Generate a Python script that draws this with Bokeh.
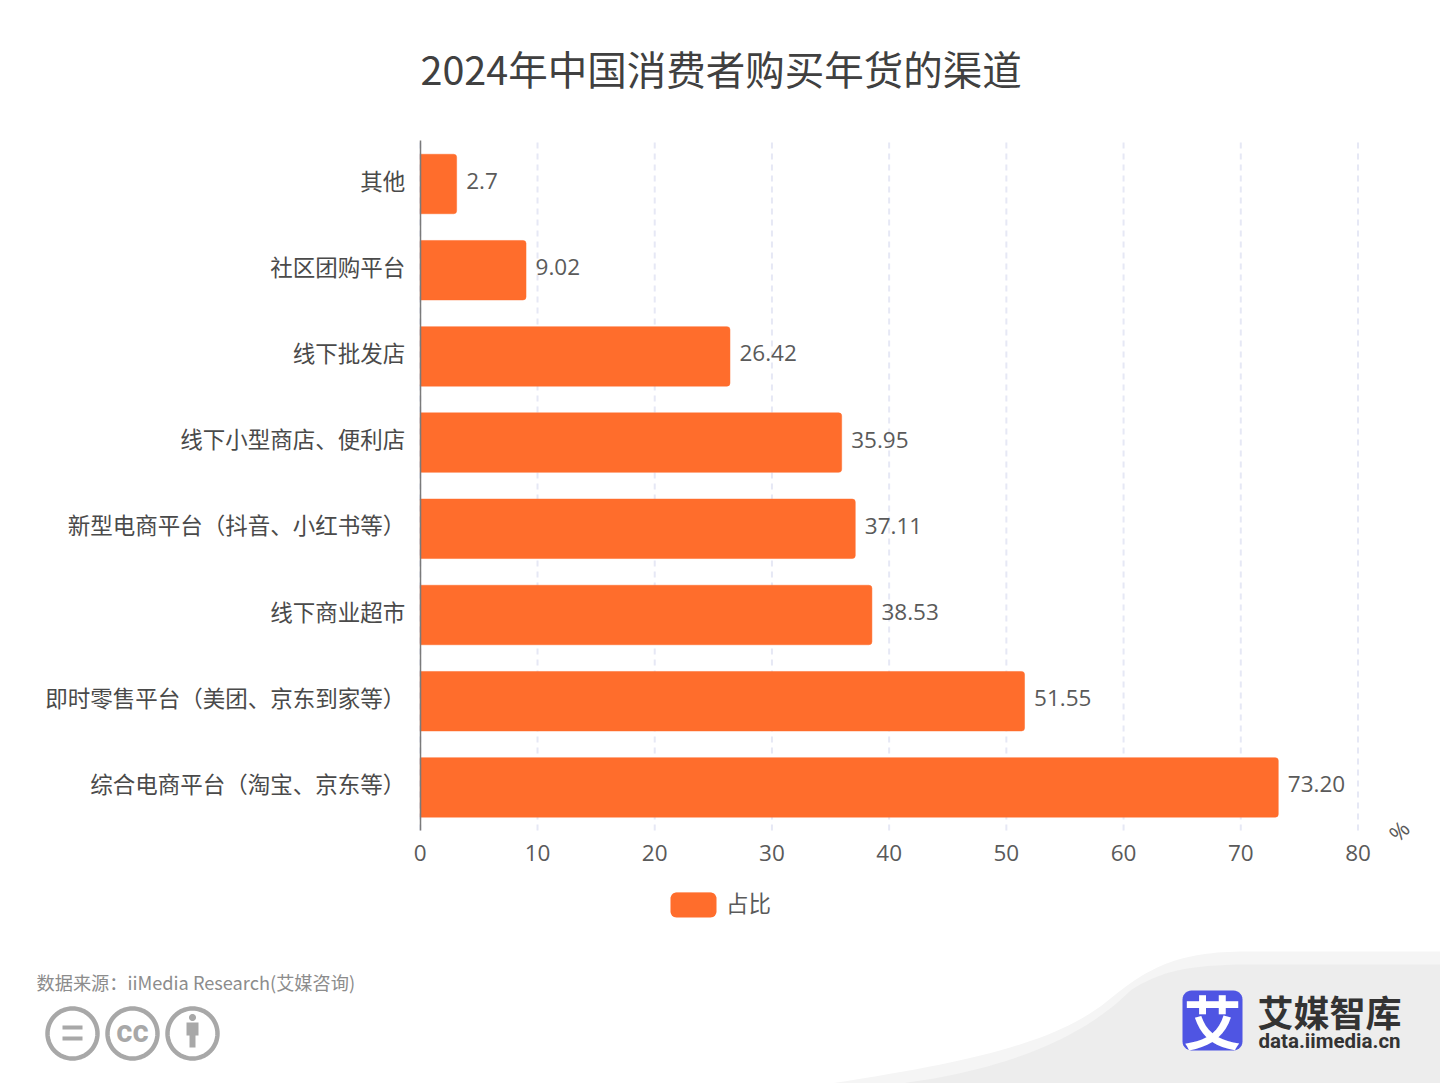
import numpy as np
from bokeh.plotting import figure
from bokeh.models import Range1d, Legend, LegendItem, FixedTicker, ColumnDataSource
from bokeh.core.properties import value
from bokeh.embed import file_html
from bokeh.resources import INLINE

# ---- chart data (bottom to top) ----
channels = ["综合电商平台（淘宝、京东等）", "即时零售平台（美团、京东到家等）", "线下商业超市",
            "新型电商平台（抖音、小红书等）", "线下小型商店、便利店", "线下批发店", "社区团购平台", "其他"]
bar_values = [73.20, 51.55, 38.53, 37.11, 35.95, 26.42, 9.02, 3.1]
bar_labels = ["73.20", "51.55", "38.53", "37.11", "35.95", "26.42", "9.02", "2.7"]
x_ticks = [0, 10, 20, 30, 40, 50, 60, 70, 80]
series_name = "占比"
unit_text = "%"
title_text = "2024年中国消费者购买年货的渠道"
source_text = "数据来源：iiMedia Research(艾媒咨询)"
brand_text = "艾媒智库"
brand_url = "data.iimedia.cn"

ORANGE = "#FF6D2C"
CJK = "Noto Sans CJK SC"
NUM = "Open Sans"
W, H = 1440, 1083

# the frame is the whole page; these two scales place x=0/x=80 and the category rows on it
PX_X0, PX_X80 = 419.8, 1357.5
PX_ROW0, PX_STEP = 786.9, 86.2
PX_AXIS_TOP, PX_AXIS_BOTTOM = 140, 830
sx = (PX_X80 - PX_X0) / 80
row = lambda py: (PX_ROW0 - py) / PX_STEP
rows = list(range(len(channels)))
LABEL_SHIFT = 0.05

p = figure(width=W, height=H, frame_width=W, frame_height=H, output_backend="svg", toolbar_location=None,
           x_range=Range1d(-PX_X0 / sx, (W - PX_X0) / sx), y_range=Range1d(row(H), row(0)),
           min_border=0, outline_line_color=None, background_fill_color="white", border_fill_color="white")
p.extra_x_ranges = {"page": Range1d(0, W)}
p.extra_y_ranges = {"page": Range1d(H, 0)}
PAGE = dict(x_range_name="page", y_range_name="page")
p.xgrid.visible = False
p.ygrid.visible = False


# ---- decorations in page pixels ----
def poly(xs, ys, fill=None, line=None, lw=0):
    if fill:
        p.patch(list(xs), list(ys), fill_color=fill, line_color=None, **PAGE)
    if line:
        p.line(list(xs) + [xs[0]], list(ys) + [ys[0]], line_color=line, line_width=lw, **PAGE)


def label(x, y, text, font=CJK, size="18px", color="#888888", style="normal", align="left", angle=0):
    p.text([x], [y], text=[text], text_font=value(font), text_font_size=size, text_color=color,
           text_font_style=style, text_align=align, text_baseline="middle", angle=angle, angle_units="deg", **PAGE)


def bezier(pts, n=30):
    pts = np.array(pts, float)
    s = np.linspace(0, 1, n)[:, None]
    return (1 - s) ** 3 * pts[0] + 3 * (1 - s) ** 2 * s * pts[1] + 3 * (1 - s) * s ** 2 * pts[2] + s ** 3 * pts[3]


def circle(cx, cy, r, n=72):
    a = np.linspace(0, 2 * np.pi, n, endpoint=False)
    return list(cx + r * np.cos(a)), list(cy + r * np.sin(a))


def rrect(x0, y0, x1, y1, r, n=8):
    xs, ys = [], []
    for cx, cy, a0 in [(x1 - r, y0 + r, -90), (x1 - r, y1 - r, 0), (x0 + r, y1 - r, 90), (x0 + r, y0 + r, 180)]:
        a = np.radians(np.linspace(a0, a0 + 90, n))
        xs += list(cx + r * np.cos(a))
        ys += list(cy + r * np.sin(a))
    return xs, ys


c1 = np.vstack([bezier([(830, 1083), (980, 1060), (1060, 1040), (1110, 998)]),
                bezier([(1110, 998), (1150, 965), (1180, 952), (1240, 951)])])
poly(list(c1[:, 0]) + [1440, 1440], list(c1[:, 1]) + [951, 1083], "#F5F5F5")
c2 = np.vstack([bezier([(900, 1083), (1000, 1070), (1080, 1040), (1130, 990)]),
                bezier([(1130, 990), (1160, 970), (1190, 965), (1240, 964)])])
poly(list(c2[:, 0]) + [1440, 1440], list(c2[:, 1]) + [964, 1083], "#EDEDED")

# ---- chart ----
bottom, top = row(PX_AXIS_BOTTOM), row(PX_AXIS_TOP)
p.segment(x0=x_ticks, x1=x_ticks, y0=bottom, y1=top, line_color="#E6E8F5", line_width=2, line_dash="6 5")

src = ColumnDataSource(dict(y=rows, v=bar_values, t=bar_labels))
bars = p.hbar(y="y", right="v", left=0, height=0.69, source=src, fill_color=ORANGE, line_color=ORANGE,
              line_width=0.5, border_radius=(0, 3, 3, 0))
p.text(x="v", y="y", text="t", source=src, x_offset=9.5, y_offset=-3, text_baseline="middle", text_align="left",
       text_font=value(NUM), text_font_size="22.5px", text_color="#5A5A5A")

xa = p.xaxis[0]
xa.fixed_location = bottom
xa.ticker = FixedTicker(ticks=x_ticks)
xa.axis_line_color = None
xa.major_tick_line_color = None
xa.minor_tick_line_color = None
xa.major_label_text_font = NUM
xa.major_label_text_font_size = "22.5px"
xa.major_label_text_color = "#5A5A5A"
xa.major_label_standoff = 8

label_ticks = [round(r + LABEL_SHIFT, 3) for r in rows]
ya = p.yaxis[0]
ya.fixed_location = 0
ya.bounds = (bottom, top)
ya.ticker = FixedTicker(ticks=label_ticks)
ya.major_label_overrides = dict(zip(label_ticks, channels))
ya.axis_line_color = "#7A7A7A"
ya.axis_line_width = 1.5
ya.major_tick_line_color = None
ya.minor_tick_line_color = None
ya.major_label_text_font = CJK
ya.major_label_text_font_size = "22.5px"
ya.major_label_text_color = "#4A4A4A"
ya.major_label_standoff = 9

# rounded swatch behind the legend's own (smaller, square) glyph
poly(*rrect(670, 892, 716, 917, 6), ORANGE)
leg = Legend(items=[LegendItem(label=series_name, renderers=[bars])], orientation="horizontal",
             location=(670, H - 918), glyph_width=46, glyph_height=25, padding=0, margin=0,
             label_text_font=CJK, label_text_font_size="22.5px", label_text_color="#5A5A5A",
             label_standoff=10, border_line_color=None, background_fill_alpha=0)
p.add_layout(leg, "center")

label(420, 67, title_text, size="39.5px", color="#404040")
label(1398, 830, unit_text, font=NUM, size="22px", color="#5A5A5A", align="center", angle=45)

# logo
poly(*rrect(1182, 990, 1242, 1050, 9), "#4F55E3")
label(1212, 1019, "艾", size="58px", color="white", style="bold", align="center")
label(1257, 1010, brand_text, size="36px", color="#333333", style="bold")
label(1258, 1040, brand_url, font="Roboto", size="20.5px", color="#333333", style="bold")

# source + licence icons
label(36, 981, source_text, size="18.2px", color="#8C8C8C")
ICON = "#A8A8A8"
for cx in (72, 132, 192):
    poly(*circle(cx, 1033, 25), None, ICON, 4.5)
poly([62, 82, 82, 62], [1025, 1025, 1029, 1029], ICON)
poly([62, 82, 82, 62], [1036, 1036, 1040, 1040], ICON)
label(132, 1031, "cc", font="Roboto", size="31px", color=ICON, style="bold", align="center")
poly(*circle(192, 1017, 3.5), ICON)
poly([186, 198, 198, 195, 195, 189, 189, 186], [1022, 1022, 1035, 1035, 1047, 1047, 1035, 1035], ICON)

open("out.html", "w").write(file_html(p, INLINE))
